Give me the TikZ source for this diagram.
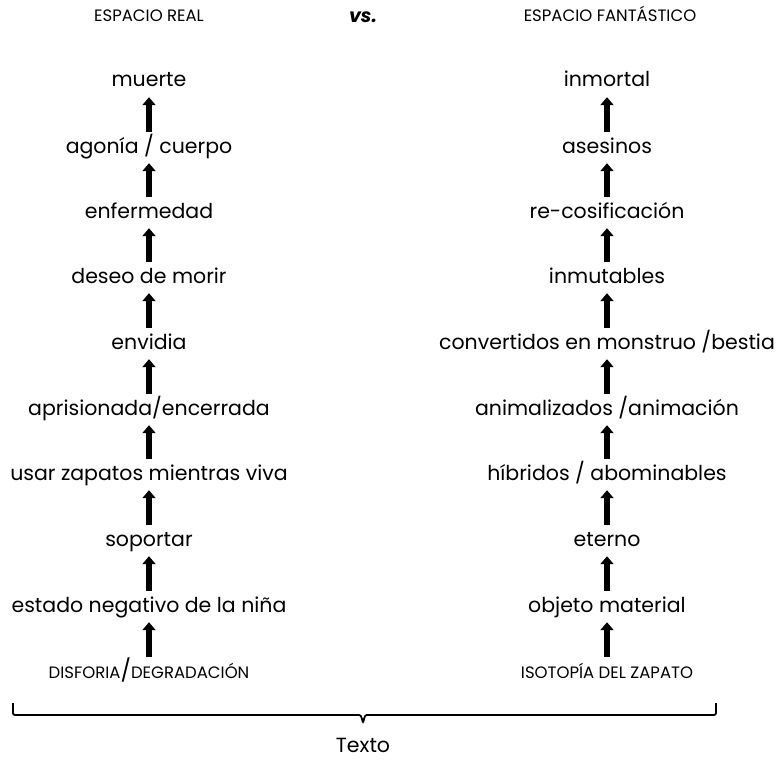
\documentclass[tikz,border=0pt]{standalone}
\usepackage{fontspec}
\setmainfont{Poppins}
\usetikzlibrary{arrows.meta}

\tikzset{
  etiq/.style={font=\fontsize{20.5}{23}\selectfont, inner sep=0pt, text height=14pt, text depth=4pt},
  versal/.style={font=\fontsize{16.5}{18}\selectfont, inner sep=0pt, text height=14pt, text depth=4pt},
  flecha/.style={line width=6pt, -{Triangle[width=13pt,length=8pt]}, shorten <=7pt, shorten >=6pt}
}

\begin{document}
\begin{tikzpicture}[x=1pt,y=-1pt]
            \useasboundingbox (0,0) rectangle (777,760);
            % encabezado
            \node[versal] (er) at (149,17) {ESPACIO REAL};
            \node[font=\fontsize{19}{20}\selectfont\bfseries\itshape, inner sep=0pt] (vs) at (363,17) {vs.};
            \node[versal] (ef) at (610,17) {ESPACIO FANTÁSTICO};
            % espacio real
            \node[versal] (r0) at (149,673) {DISFORIA{\fontsize{22}{23}\selectfont/}DEGRADACIÓN};
            \node[etiq] (r1) at (149,607) {estado negativo de la niña};
            \node[etiq] (r2) at (149,541) {soportar};
            \node[etiq] (r3) at (149,475) {usar zapatos mientras viva};
            \node[etiq] (r4) at (149,410) {aprisionada/encerrada};
            \node[etiq] (r5) at (149,344) {envidia};
            \node[etiq] (r6) at (149,278) {deseo de morir};
            \node[etiq] (r7) at (149,213) {enfermedad};
            \node[etiq] (r8) at (149,148) {agonía / cuerpo};
            \node[etiq] (r9) at (149,82) {muerte};
            % espacio fantastico
            \node[versal] (f0) at (607,673) {ISOTOPÍA DEL ZAPATO};
            \node[etiq] (f1) at (607,607) {objeto material};
            \node[etiq] (f2) at (607,541) {eterno};
            \node[etiq] (f3) at (607,475) {híbridos / abominables};
            \node[etiq] (f4) at (607,410) {animalizados /animación};
            \node[etiq] (f5) at (607,344) {convertidos en monstruo /bestia};
            \node[etiq] (f6) at (607,278) {inmutables};
            \node[etiq] (f7) at (607,213) {re-cosificación};
            \node[etiq] (f8) at (607,148) {asesinos};
            \node[etiq] (f9) at (607,82) {inmortal};
            \foreach \i [evaluate=\i as \j using int(\i+1)] in {0,...,8} {
              \draw[flecha] (r\i.north) -- (r\j.south);
              \draw[flecha] (f\i.north) -- (f\j.south);
            }
            % llave
            \coordinate (li) at (13,703);
            \coordinate (ld) at (716,703);
            \node[etiq] (tx) at (363,747) {Texto};
            \draw[line width=1.8pt, rounded corners=2pt] (li) |- (355,715) .. controls (361,715) .. (363,723) .. controls (365,715) .. (371,715) -| (ld);
        \end{tikzpicture}
\end{document}
